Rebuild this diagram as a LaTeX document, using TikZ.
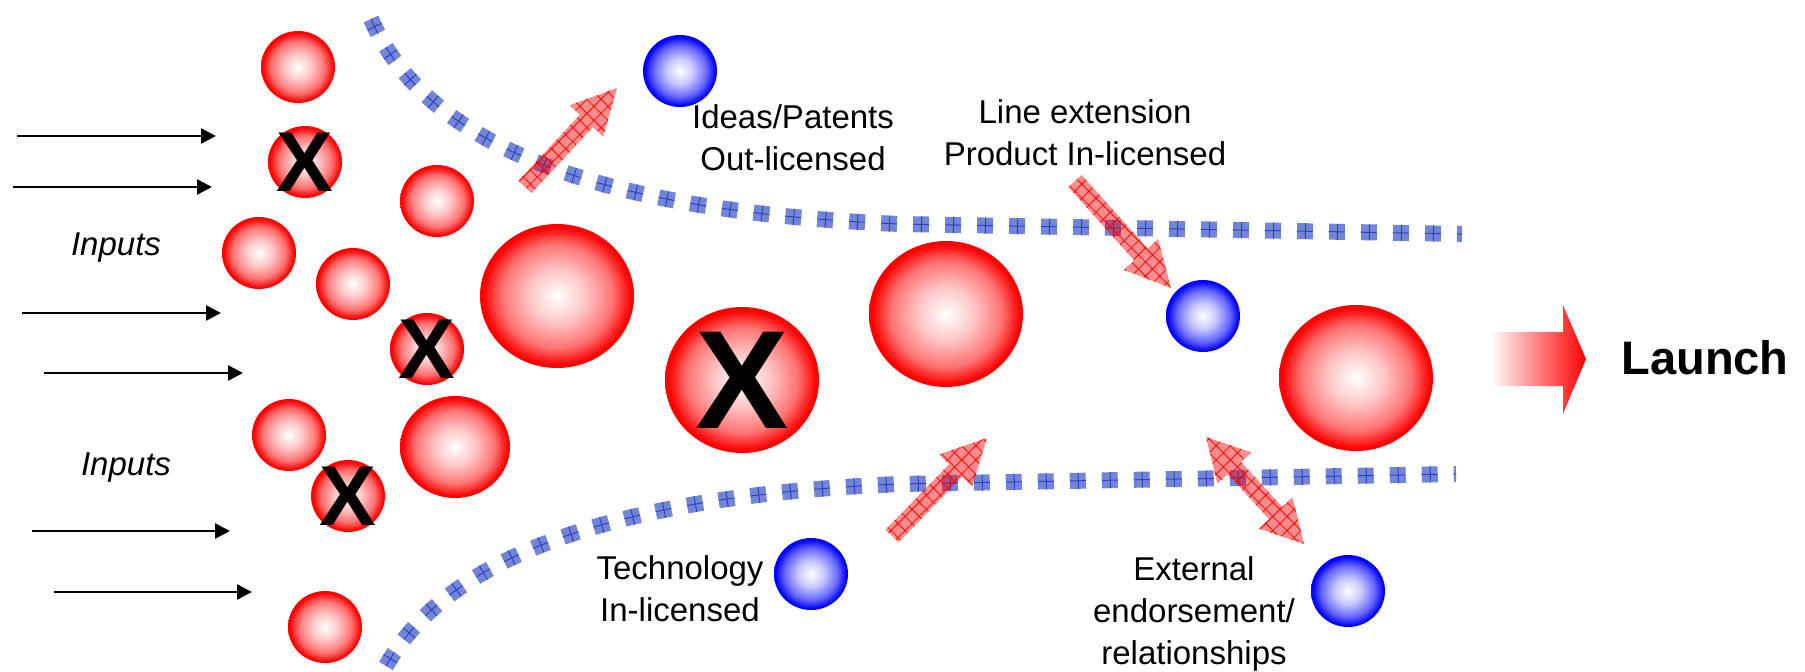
\documentclass[tikz,border=0pt]{standalone}
\usepackage{fontspec}
\setmainfont{Liberation Sans}
\usetikzlibrary{arrows.meta,calc,shapes.geometric,patterns.meta}

\definecolor{dotblue}{RGB}{115,133,215}
\definecolor{gridblue}{RGB}{45,65,200}

\pgfdeclareradialshading{redsphere}{\pgfpoint{0bp}{0bp}}{color(0bp)=(white); color(9bp)=(red!22!white);
    color(18bp)=(red!55!white); color(24bp)=(red); color(50bp)=(red)}
\pgfdeclareradialshading{bluesphere}{\pgfpoint{0bp}{0bp}}{color(0bp)=(white); color(9bp)=(blue!22!white);
    color(18bp)=(blue!60!white); color(24bp)=(blue); color(50bp)=(blue)}

% block arrow with one head, from #1 to #2
\newcommand\hatcharrow[2]{%
  \coordinate (hb) at ($(#2)!45pt!(#1)$);
  \path[hatchfill] ($(#1)!9pt!90:(#2)$) -- ($(hb)!9pt!90:(#2)$) -- ($(hb)!23pt!90:(#2)$)
    -- (#2) -- ($(hb)!23pt!-90:(#2)$) -- ($(hb)!9pt!-90:(#2)$) -- ($(#1)!9pt!-90:(#2)$) -- cycle;
}
% block arrow with two heads
\newcommand\hatchboth[2]{%
  \coordinate (ha) at ($(#1)!42pt!(#2)$);
  \coordinate (hb) at ($(#2)!42pt!(#1)$);
  \path[hatchfill] (#1) -- ($(ha)!23pt!90:(#2)$) -- ($(ha)!9pt!90:(#2)$) -- ($(hb)!9pt!90:(#2)$)
    -- ($(hb)!23pt!90:(#2)$) -- (#2) -- ($(hb)!23pt!-90:(#2)$) -- ($(hb)!9pt!-90:(#2)$)
    -- ($(ha)!9pt!-90:(#2)$) -- ($(ha)!23pt!-90:(#2)$) -- cycle;
}

\begin{document}
\begin{tikzpicture}[x=1pt,y=-1pt,
        redball/.style={ellipse,inner sep=0pt,shading=redsphere},
        blueball/.style={ellipse,inner sep=0pt,shading=bluesphere,
            minimum width=74pt,minimum height=72pt},
        smallball/.style={minimum width=74pt,minimum height=72pt},
        bigball/.style={minimum width=154pt,minimum height=146pt},
        xmark/.style={inner sep=0pt,font=\bfseries\fontsize{85}{85}\selectfont},
        txt/.style={inner sep=0pt,align=center,font=\fontsize{33}{42}\selectfont},
        inarrow/.style={line width=2.5pt,-{Triangle[length=15pt,width=15pt]}},
        dotline/.style={line width=16pt,draw=dotblue,dash pattern=on 16pt off 16pt,
            postaction={draw=gridblue,line width=1pt,dash pattern=on 16pt off 16pt},
            postaction={draw=gridblue,line width=16pt,dash pattern=on 1pt off 31pt,dash phase=24pt}},
        hatchfill/.style={fill=red,fill opacity=0.45,
            postaction={pattern={Hatch[angle=45,distance=10pt,line width=0.8pt]},pattern color=red}}]

    \useasboundingbox (0,0) rectangle (1805,672);

    % funnel
    \path[dotline] (371,19) .. controls (420,130) and (560,210) .. (900,224) -- (1462,234);
    \path[dotline] (386,666) .. controls (435,580) and (560,498) .. (900,484) -- (1456,474);

    % inputs
    \foreach \n/\xa/\xb/\y in {1/17/216/136,2/13/212/187,3/22/221/313,4/44/243/373,5/32/230/531,6/54/252/592}{
        \coordinate (s\n) at (\xa,\y);
        \coordinate (e\n) at (\xb,\y);
        \draw[inarrow] (s\n) -- (e\n);
    }
    \node[txt,font=\itshape\fontsize{33}{42}\selectfont] (in1) at (116,248) {Inputs};
    \node[txt,font=\itshape\fontsize{33}{42}\selectfont] (in2) at (126,468) {Inputs};

    % red balls
    \node[redball,smallball] (rA) at (298,67) {};
    \node[redball,smallball] (rX1) at (305,162) {};
    \node[redball,smallball] (rC) at (437,201) {};
    \node[redball,smallball] (rD) at (259,253) {};
    \node[redball,smallball] (rE) at (353,284) {};
    \node[redball,minimum width=154pt,minimum height=144pt] (rF) at (557,296) {};
    \node[redball,smallball] (rX2) at (427,349) {};
    \node[redball,smallball] (rG) at (289,435) {};
    \node[redball,minimum width=110pt,minimum height=102pt] (rH) at (455,447) {};
    \node[redball,smallball] (rX3) at (348,496) {};
    \node[redball,smallball] (rI) at (325,627) {};
    \node[redball,bigball] (rX4) at (742,380) {};
    \node[redball,bigball] (rM) at (946,314) {};
    \node[redball,bigball] (rR) at (1356,378) {};

    \node[xmark] (x1) at (rX1) {X};
    \node[xmark] (x2) at (rX2) {X};
    \node[xmark] (x3) at (rX3) {X};
    \node[xmark,font=\bfseries\fontsize{140}{140}\selectfont] (x4) at (rX4) {X};

    % blue balls
    \node[blueball] (bTop) at (680,71) {};
    \node[blueball] (bMid) at (1203,316) {};
    \node[blueball] (bBot) at (811,574) {};
    \node[blueball] (bRight) at (1348,591) {};

    % hatched arrows
    \coordinate (a1s) at (525,187); \coordinate (a1e) at (617,88);
    \coordinate (a2s) at (1075,181); \coordinate (a2e) at (1171,288);
    \coordinate (a3s) at (892,536); \coordinate (a3e) at (987,438);
    \coordinate (a4s) at (1206,437); \coordinate (a4e) at (1304,544);
    \hatcharrow{a1s}{a1e}
    \hatcharrow{a2s}{a2e}
    \hatcharrow{a3s}{a3e}
    \hatchboth{a4s}{a4e}

    % texts
    \node[txt] (ideas) at (793,138) {Ideas/Patents\\Out-licensed};
    \node[txt] (lineext) at (1085,133) {Line extension\\Product In-licensed};
    \node[txt] (tech) at (680,589) {Technology\\In-licensed};
    \node[txt] (ext) at (1194,614) {External\\endorsement/\\relationships};

    % launch
    \shade[left color=white,right color=red] (1491,332) -- (1563,332) -- (1563,305) -- (1586,359)
        -- (1563,414) -- (1563,386) -- (1491,386) -- cycle;
    \node[inner sep=0pt,font=\bfseries\fontsize{47}{47}\selectfont] (launch) at (1705,358) {Launch};
\end{tikzpicture}
\end{document}
